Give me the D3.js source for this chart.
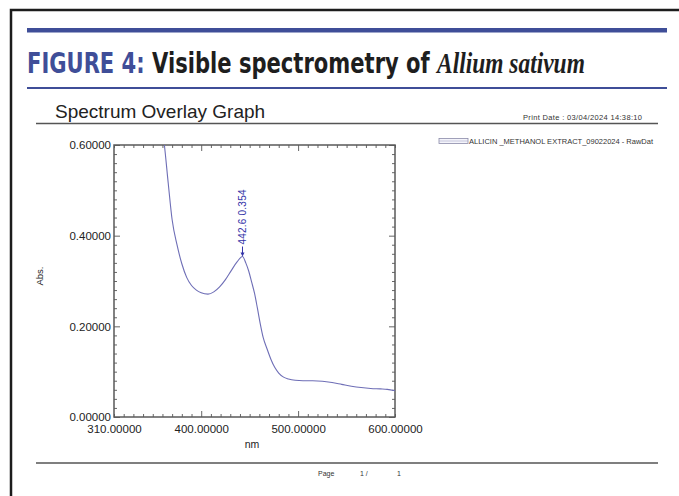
<!DOCTYPE html>
<html lang="en">
  <head>
    <meta charset="utf-8">
    <title>Visible spectrometry of Allium sativum</title>
    <style type="text/css">
      body{
        margin: 0;
        background: #fff;
      }
      svg{
        display: block;
        font-family: "Liberation Sans", Arial, sans-serif;
      }
    </style>
    <script src="https://cdn.jsdelivr.net/npm/d3@7"></script>
  </head>
  <body>
    <div class="figure"></div>
    <script type="text/javascript">
      //wavelengths (nm)
      var wavelengths = [355, 360, 362, 366, 370, 375, 380, 385, 390, 395, 400, 407, 413, 419, 425, 431, 437, 442.6,
        446, 449, 452, 455, 458, 461, 464, 468, 472, 476, 480, 485, 490, 497, 505, 515, 525, 535, 545, 555, 565,
        575, 585, 592, 600];
      //absorbance at each wavelength
      var absorbance = [0.730, 0.635, 0.600, 0.515, 0.435, 0.380, 0.338, 0.308, 0.290, 0.280, 0.274, 0.271, 0.276,
        0.287, 0.303, 0.323, 0.342, 0.354, 0.340, 0.322, 0.298, 0.273, 0.240, 0.205, 0.175, 0.150, 0.127, 0.109,
        0.097, 0.088, 0.084, 0.081, 0.080, 0.080, 0.079, 0.076, 0.072, 0.068, 0.065, 0.063, 0.062, 0.061, 0.058];

      //axis ticks
      var xTicks = [310, 400, 500, 600];
      var yTicks = [0, 0.2, 0.4, 0.6];

      //peak pick
      var peak = {nm: 442.6, abs: 0.354};

      var width = 679;
      var height = 496;

      //plot frame
      var plot = {left: 114, right: 395, top: 145, bottom: 417};

      var svg = d3.select(".figure")
        .append("svg")
        .attr("width", width)
        .attr("height", height);

      //outer page border
      svg.append("rect")
        .attr("x", 11)
        .attr("y", 10)
        .attr("width", width)
        .attr("height", height)
        .attr("fill", "none")
        .attr("stroke", "#1c1c1c")
        .attr("stroke-width", 2.5);

      //blue bar and figure title
      svg.append("rect")
        .attr("x", 27).attr("y", 28)
        .attr("width", 640).attr("height", 4.5)
        .attr("fill", "#3f4e98");

      var title = svg.append("text")
        .attr("x", 27)
        .attr("y", 73)
        .style("font-size", "29px")
        .style("font-weight", "bold");
      title.append("tspan")
        .style("font-family", "'Liberation Sans Narrow', 'DejaVu Sans Condensed', sans-serif")
        .attr("fill", "#3f4e98")
        .text("FIGURE 4: ");
      title.append("tspan")
        .style("font-family", "'Liberation Sans Narrow', 'DejaVu Sans Condensed', sans-serif")
        .attr("fill", "#1e1e1e")
        .text("Visible spectrometry of ");
      title.append("tspan")
        .style("font-family", "'Liberation Serif', serif")
        .style("font-style", "italic")
        .attr("fill", "#1e1e1e")
        .text("Allium sativum");

      //stretch the title to the width it has in the figure
      var tw = title.node().getComputedTextLength();
      title.attr("transform", `translate(27,0) scale(${558 / tw},1) translate(-27,0)`);

      svg.append("rect")
        .attr("x", 27).attr("y", 87)
        .attr("width", 640).attr("height", 2)
        .attr("fill", "#3f4e98");

      //report header
      svg.append("text")
        .attr("x", 55)
        .attr("y", 118)
        .style("font-size", "19px")
        .attr("fill", "#222")
        .text("Spectrum Overlay Graph");

      svg.append("text")
        .attr("x", 523)
        .attr("y", 120)
        .attr("textLength", 119)
        .style("font-size", "7.5px")
        .attr("fill", "#333")
        .text("Print Date :   03/04/2024   14:38:10");

      svg.append("line")
        .attr("x1", 36).attr("x2", 658)
        .attr("y1", 123.5).attr("y2", 123.5)
        .attr("stroke", "#555")
        .attr("stroke-width", 1.5);

      //legend
      svg.append("rect")
        .attr("x", 439).attr("y", 138.5)
        .attr("width", 29).attr("height", 5)
        .attr("fill", "#f4f4fb")
        .attr("stroke", "#8a8aa8")
        .attr("stroke-width", 0.8);
      svg.append("line")
        .attr("x1", 439).attr("x2", 468)
        .attr("y1", 141).attr("y2", 141)
        .attr("stroke", "#a8a8c8")
        .attr("stroke-width", 0.6);
      svg.append("text")
        .attr("x", 469)
        .attr("y", 144)
        .attr("textLength", 184)
        .style("font-size", "7.5px")
        .attr("fill", "#333")
        .text("ALLICIN _METHANOL EXTRACT_09022024 - RawDat");

      //scales
      var x = d3.scaleLinear()
        .domain([310, 600])
        .range([plot.left, plot.right]);

      var y = d3.scaleLinear()
        .domain([0, 0.6])
        .range([plot.bottom, plot.top]);

      //clip for the curve
      svg.append("clipPath")
        .attr("id", "clip")
        .append("rect")
        .attr("x", plot.left)
        .attr("y", plot.top)
        .attr("width", plot.right - plot.left)
        .attr("height", plot.bottom - plot.top);

      //inward ticks on all four sides
      var minorX = d3.range(310, 601, 10);
      var minorY = d3.range(0, 0.6001, 0.02);
      var isMajorX = d => d == 400 || d == 500;
      var isMajorY = d => Math.abs(d * 5 - Math.round(d * 5)) < 1e-6;

      var axisG = svg.append("g").attr("stroke", "#666").attr("stroke-width", 1);

      axisG.append("g")
        .attr("transform", `translate(0,${plot.bottom})`)
        .call(d3.axisTop(x).tickValues(minorX).tickSize(0).tickFormat(""))
        .call(g => g.select(".domain").remove())
        .selectAll(".tick line")
        .attr("y2", d => isMajorX(d) ? -6 : -3);

      axisG.append("g")
        .attr("transform", `translate(0,${plot.top})`)
        .call(d3.axisBottom(x).tickValues(minorX).tickSize(0).tickFormat(""))
        .call(g => g.select(".domain").remove())
        .selectAll(".tick line")
        .attr("y2", d => isMajorX(d) ? 6 : 3);

      axisG.append("g")
        .attr("transform", `translate(${plot.left},0)`)
        .call(d3.axisRight(y).tickValues(minorY).tickSize(0).tickFormat(""))
        .call(g => g.select(".domain").remove())
        .selectAll(".tick line")
        .attr("x2", d => isMajorY(d) ? 6 : 3);

      axisG.append("g")
        .attr("transform", `translate(${plot.right},0)`)
        .call(d3.axisLeft(y).tickValues(minorY).tickSize(0).tickFormat(""))
        .call(g => g.select(".domain").remove())
        .selectAll(".tick line")
        .attr("x2", d => isMajorY(d) ? -6 : -3);

      axisG.selectAll(".tick line").attr("stroke", "#666");

      //tick labels
      svg.append("g")
        .attr("transform", `translate(0,${plot.bottom})`)
        .call(d3.axisBottom(x).tickValues(xTicks).tickSize(0).tickPadding(8).tickFormat(d3.format(".5f")))
        .call(g => g.select(".domain").remove())
        .selectAll("text")
        .style("font-family", "'Liberation Sans', Arial, sans-serif")
        .style("font-size", "11.5px")
        .attr("fill", "#222");

      svg.append("g")
        .attr("transform", `translate(${plot.left},0)`)
        .call(d3.axisLeft(y).tickValues(yTicks).tickSize(0).tickPadding(3).tickFormat(d3.format(".5f")))
        .call(g => g.select(".domain").remove())
        .selectAll("text")
        .style("font-family", "'Liberation Sans', Arial, sans-serif")
        .style("font-size", "11.5px")
        .attr("fill", "#222");

      //frame
      svg.append("rect")
        .attr("x", plot.left)
        .attr("y", plot.top)
        .attr("width", plot.right - plot.left)
        .attr("height", plot.bottom - plot.top)
        .attr("fill", "none")
        .attr("stroke", "#5a5a5a")
        .attr("stroke-width", 1.5);

      //axis titles
      svg.append("text")
        .attr("transform", "translate(43,276) rotate(-90)")
        .attr("text-anchor", "middle")
        .style("font-size", "9.5px")
        .attr("fill", "#222")
        .text("Abs.");

      svg.append("text")
        .attr("x", 252)
        .attr("y", 448)
        .attr("text-anchor", "middle")
        .style("font-size", "10.5px")
        .attr("fill", "#222")
        .text("nm");

      //spectrum curve
      var line = d3.line()
        .x((d, i) => x(wavelengths[i]))
        .y(d => y(d))
        .curve(d3.curveMonotoneX);

      svg.append("path")
        .datum(absorbance)
        .attr("clip-path", "url(#clip)")
        .attr("fill", "none")
        .attr("stroke", "#6e6eb6")
        .attr("stroke-width", 1.1)
        .attr("d", line);

      //peak label with arrow
      var px = x(peak.nm);
      var py = y(peak.abs);

      svg.append("line")
        .attr("x1", px).attr("x2", px)
        .attr("y1", py - 10).attr("y2", py - 3)
        .attr("stroke", "#3333a8")
        .attr("stroke-width", 1);
      svg.append("path")
        .attr("d", `M${px - 2},${py - 4} L${px + 2},${py - 4} L${px},${py} Z`)
        .attr("fill", "#3333a8");

      svg.append("text")
        .attr("transform", `translate(${px + 3.5},${py - 12}) rotate(-90)`)
        .style("font-size", "10px")
        .attr("textLength", 55)
        .attr("fill", "#3333a8")
        .text(peak.nm.toFixed(1) + "  " + peak.abs.toFixed(3));

      //footer
      svg.append("line")
        .attr("x1", 36).attr("x2", 658)
        .attr("y1", 463).attr("y2", 463)
        .attr("stroke", "#555")
        .attr("stroke-width", 1.5);

      svg.append("text")
        .attr("x", 318)
        .attr("y", 476)
        .style("font-size", "7px")
        .attr("fill", "#333")
        .text("Page");
      svg.append("text")
        .attr("x", 360)
        .attr("y", 476)
        .style("font-size", "7px")
        .attr("fill", "#333")
        .text("1 /");
      svg.append("text")
        .attr("x", 397)
        .attr("y", 476)
        .style("font-size", "7px")
        .attr("fill", "#333")
        .text("1");
    </script>
  </body>
</html>
